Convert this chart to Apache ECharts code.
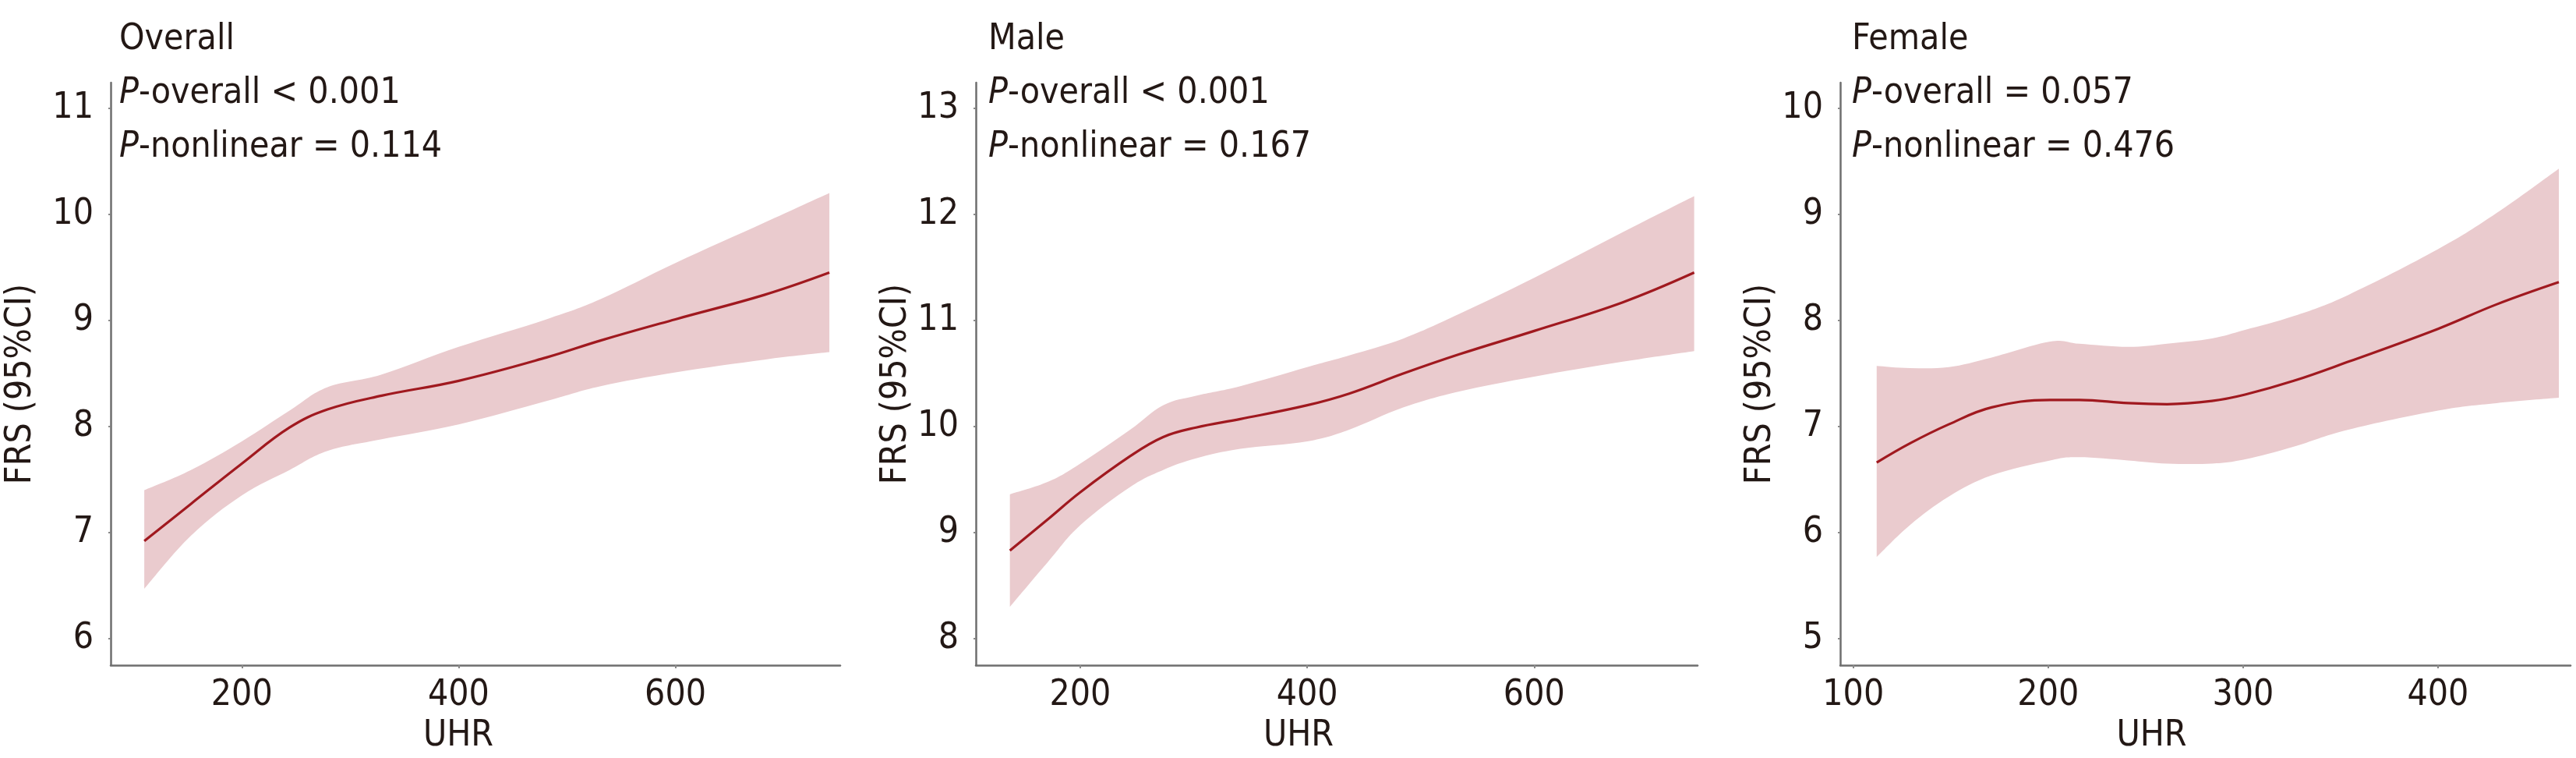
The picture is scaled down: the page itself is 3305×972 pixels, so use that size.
<!DOCTYPE html>
<html>
<head>
<meta charset="utf-8">
<script src="https://cdn.jsdelivr.net/npm/echarts@6/dist/echarts.min.js"></script>
<style>
html,body{margin:0;padding:0;background:#fff;}
#chart{width:3305px;height:972px;}
</style>
</head>
<body>
<div id="chart"></div>
<script>
// ---------- data ----------
const panelTitles = ['Overall', 'Male', 'Female'];
const pOverallText = ['< 0.001', '< 0.001', '= 0.057'];
const pNonlinearText = ['= 0.114', '= 0.167', '= 0.476'];
const xAxisName = 'UHR';
const yAxisName = 'FRS (95%CI)';

const overallX     = [110, 153, 200, 244, 279, 329, 400, 481, 531, 600, 682, 742];
const overallFit   = [6.92, 7.27, 7.65, 7.99, 8.16, 8.29, 8.43, 8.65, 8.81, 9.01, 9.24, 9.45];
const overallUpper = [7.40, 7.59, 7.86, 8.15, 8.37, 8.49, 8.75, 9.01, 9.20, 9.54, 9.92, 10.20];
const overallLower = [6.47, 6.97, 7.35, 7.59, 7.77, 7.88, 8.02, 8.24, 8.38, 8.51, 8.63, 8.70];

const maleX     = [138, 172, 200, 244, 273, 302, 341, 400, 437, 485, 534, 600, 678, 741];
const maleFit   = [8.83, 9.13, 9.38, 9.72, 9.90, 9.99, 10.07, 10.20, 10.31, 10.50, 10.68, 10.90, 11.17, 11.45];
const maleUpper = [9.36, 9.48, 9.65, 9.97, 10.20, 10.29, 10.38, 10.56, 10.67, 10.83, 11.06, 11.40, 11.83, 12.17];
const maleLower = [8.30, 8.73, 9.07, 9.43, 9.59, 9.70, 9.79, 9.86, 9.97, 10.18, 10.33, 10.47, 10.61, 10.71];

const femaleX     = [112, 129, 149, 171, 201, 216, 241, 261, 284, 301, 326, 354, 400, 430, 462];
const femaleFit   = [6.66, 6.84, 7.02, 7.18, 7.25, 7.25, 7.22, 7.21, 7.24, 7.30, 7.43, 7.61, 7.92, 8.15, 8.36];
const femaleUpper = [7.57, 7.55, 7.56, 7.65, 7.80, 7.78, 7.75, 7.78, 7.83, 7.91, 8.04, 8.24, 8.67, 9.01, 9.43];
const femaleLower = [5.77, 6.07, 6.34, 6.54, 6.68, 6.71, 6.68, 6.65, 6.65, 6.69, 6.81, 6.97, 7.15, 7.22, 7.27];

const overallXTicks = [200, 400, 600];
const maleXTicks    = [200, 400, 600];
const femaleXTicks  = [100, 200, 300, 400];
const overallYTicks = [6, 7, 8, 9, 10, 11];
const maleYTicks    = [8, 9, 10, 11, 12, 13];
const femaleYTicks  = [5, 6, 7, 8, 9, 10];

// ---------- layout / style ----------
const FONT = "'DejaVu Sans Condensed', 'DejaVu Sans', sans-serif";
const FS = 46;
const TXT = '#231815';
const AXIS = '#6e6e6e';
const LINE = '#a0191f';
const BAND = '#eacbce';

const panels = [
  {x: overallX, fit: overallFit, up: overallUpper, lo: overallLower, xt: overallXTicks, yt: overallYTicks,
   xmin: 79, xmax: 752, ymin: 5.75, ymax: 11.24, left: 142, right: 3305 - 1078, titleLeft: 153, yGap: 92, xPad: 44},
  {x: maleX, fit: maleFit, up: maleUpper, lo: maleLower, xt: maleXTicks, yt: maleYTicks,
   xmin: 108, xmax: 744, ymin: 7.75, ymax: 13.24, left: 1252, right: 3305 - 2178, titleLeft: 1268, yGap: 77, xPad: 98},
  {x: femaleX, fit: femaleFit, up: femaleUpper, lo: femaleLower, xt: femaleXTicks, yt: femaleYTicks,
   xmin: 93.3, xmax: 468, ymin: 4.75, ymax: 10.24, left: 2361, right: 3305 - 3298, titleLeft: 2376, yGap: 77, xPad: 138}
];

// Catmull-Rom -> cubic bezier path segments through pixel points
function curveSegs(pts, t) {
  let s = '';
  for (let k = 0; k < pts.length - 1; k++) {
    const p0 = pts[Math.max(0, k - 1)], p1 = pts[k], p2 = pts[k + 1], p3 = pts[Math.min(pts.length - 1, k + 2)];
    const c1 = [p1[0] + (p2[0] - p0[0]) * t, p1[1] + (p2[1] - p0[1]) * t];
    const c2 = [p2[0] - (p3[0] - p1[0]) * t, p2[1] - (p3[1] - p1[1]) * t];
    s += ' C' + c1[0] + ',' + c1[1] + ' ' + c2[0] + ',' + c2[1] + ' ' + p2[0] + ',' + p2[1];
  }
  return s;
}

const grids = [], xAxes = [], yAxes = [], series = [], titles = [];
panels.forEach((p, i) => {
  grids.push({left: p.left, right: p.right, top: 106, bottom: 116, containLabel: false});
  xAxes.push({
    type: 'value', gridIndex: i, min: p.xmin, max: p.xmax, z: 5,
    name: xAxisName, nameLocation: 'middle', nameGap: 68,
    nameTextStyle: {fontFamily: FONT, fontSize: FS, color: TXT, padding: [0, p.xPad, 0, 0]},
    axisLine: {show: true, lineStyle: {color: AXIS, width: 2.5}},
    axisTick: {show: true, length: 4, lineStyle: {color: '#8a8a8a', width: 2}, customValues: p.xt},
    axisLabel: {fontFamily: FONT, fontSize: FS, color: TXT, margin: 16, customValues: p.xt},
    splitLine: {show: false}
  });
  yAxes.push({
    type: 'value', gridIndex: i, min: p.ymin, max: p.ymax, z: 5,
    name: yAxisName, nameLocation: 'middle', nameGap: p.yGap,
    nameTextStyle: {fontFamily: FONT, fontSize: FS, color: TXT, padding: [0, 26, 0, 0]},
    axisLine: {show: true, lineStyle: {color: AXIS, width: 2.5}},
    axisTick: {show: true, length: 3, lineStyle: {color: '#8a8a8a', width: 2}, customValues: p.yt},
    axisLabel: {fontFamily: FONT, fontSize: FS, color: TXT, margin: 22, customValues: p.yt},
    splitLine: {show: false}
  });
  const fitData = p.x.map((v, k) => [v, p.fit[k]]);
  // confidence band: one custom item, polygon built through the axis scales
  series.push({
    type: 'custom', xAxisIndex: i, yAxisIndex: i, silent: true, z: 1, clip: true,
    data: [[p.x[0], p.lo[0]]],
    encode: {x: 0, y: 1},
    renderItem: function (params, api) {
      const upPts = p.x.map((v, k) => api.coord([v, p.up[k]]));
      const loPts = p.x.map((v, k) => api.coord([v, p.lo[k]])).reverse();
      let d = 'M' + upPts[0][0] + ',' + upPts[0][1] + curveSegs(upPts, 0.18);
      d += ' L' + loPts[0][0] + ',' + loPts[0][1] + curveSegs(loPts, 0.18) + ' Z';
      return {type: 'path', shape: {pathData: d}, style: {fill: BAND, stroke: null}};
    }
  });
  series.push({
    type: 'line', xAxisIndex: i, yAxisIndex: i, data: fitData,
    smooth: 0.4, symbol: 'none', lineStyle: {color: LINE, width: 3.2}, silent: true, z: 3
  });
  titles.push({
    left: p.titleLeft, top: 17, padding: 0,
    text: '{n|' + panelTitles[i] + '}\n{i|P}{n|-overall ' + pOverallText[i] + '}\n{i|P}{n|-nonlinear ' + pNonlinearText[i] + '}',
    textStyle: {
      fontFamily: FONT, fontSize: FS, color: TXT, fontWeight: 'normal', lineHeight: 69,
      rich: {
        n: {fontFamily: FONT, fontSize: FS, color: TXT, lineHeight: 69},
        i: {fontFamily: FONT, fontSize: FS, color: TXT, fontStyle: 'italic', lineHeight: 69}
      }
    }
  });
});

const chart = echarts.init(document.getElementById('chart'), null, {renderer: 'canvas'});
chart.setOption({
  backgroundColor: '#ffffff',
  animation: false,
  title: titles,
  grid: grids,
  xAxis: xAxes,
  yAxis: yAxes,
  series: series
});
</script>
</body>
</html>
